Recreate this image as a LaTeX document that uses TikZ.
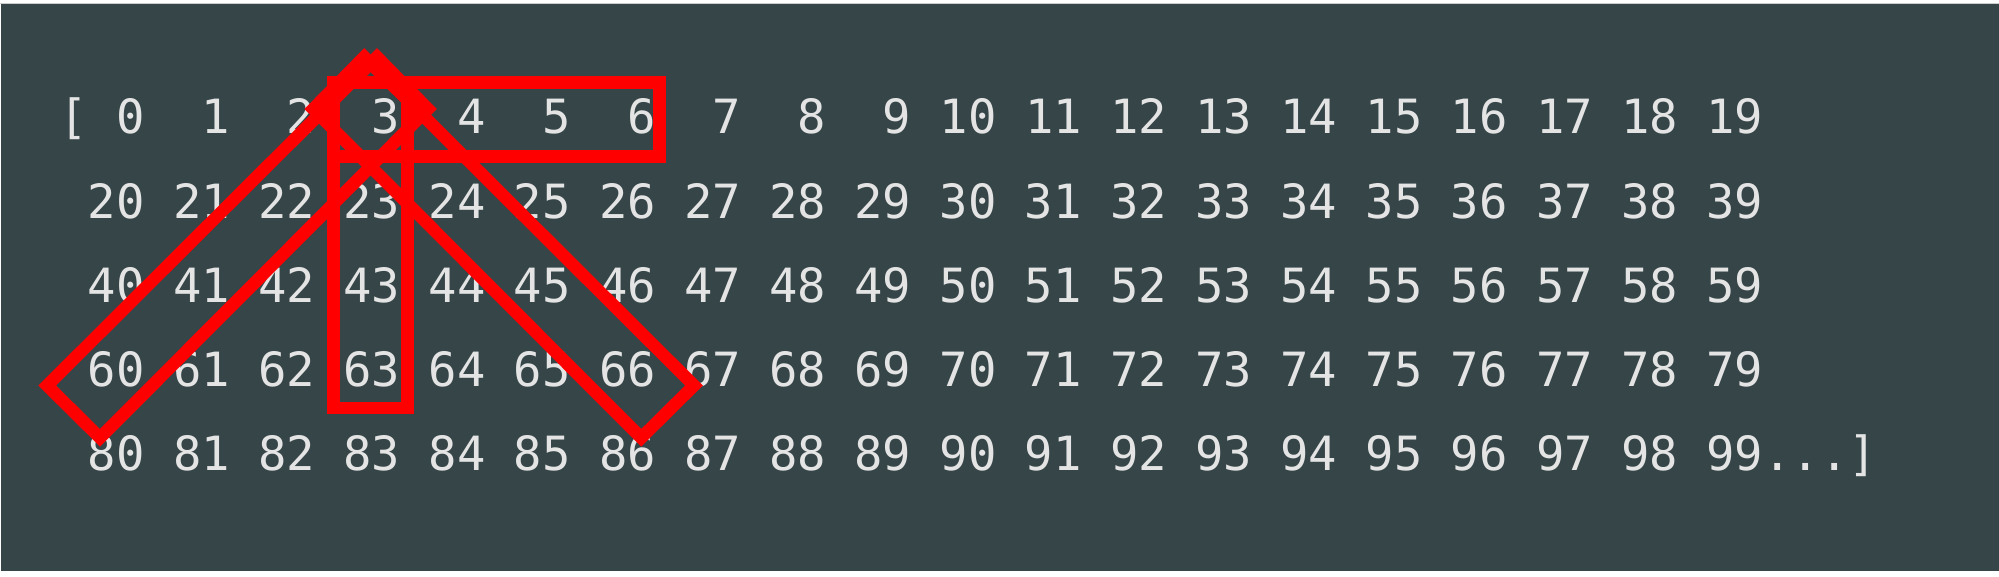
\documentclass[tikz,border=0pt]{standalone}
\usepackage{fontspec}
\newfontfamily\arrmono{DejaVu Sans Mono}
\definecolor{bgslate}{RGB}{54,69,72}
\definecolor{txtgray}{RGB}{228,228,228}
\begin{document}
\begin{tikzpicture}[x=1pt,y=-1pt,
  rowtext/.style={anchor=base west, inner sep=0pt, outer sep=0pt, text=txtgray,
    font=\arrmono\fontsize{47.17}{50}\selectfont},
  redbox/.style={draw=red, line width=12.5pt, line join=miter}]
\useasboundingbox (0,0) rectangle (1999,577);
\fill[white] (0,0) rectangle (1999,577);
\fill[gray!40] (0,3) rectangle (1999,4.5);
\fill[bgslate] (1.3,4.5) rectangle (1999,571);
\node[rowtext] (r1) at (59.5,134) {[~0~~1~~2~~3~~4~~5~~6~~7~~8~~9~10~11~12~13~14~15~16~17~18~19};
\node[rowtext] (r2) at (59.5,218.2) {~20~21~22~23~24~25~26~27~28~29~30~31~32~33~34~35~36~37~38~39};
\node[rowtext] (r3) at (59.5,302.4) {~40~41~42~43~44~45~46~47~48~49~50~51~52~53~54~55~56~57~58~59};
\node[rowtext] (r4) at (59.5,386.6) {~60~61~62~63~64~65~66~67~68~69~70~71~72~73~74~75~76~77~78~79};
\node[rowtext] (r5) at (59.5,470.8) {~80~81~82~83~84~85~86~87~88~89~90~91~92~93~94~95~96~97~98~99...]};
\draw[redbox] (333.7,82.7) rectangle (659.7,156.3);
\draw[redbox] (333.7,82.7) rectangle (407.4,407.8);
\draw[redbox] (47.2,385.5) -- (377,57) -- (428,109) -- (100,437.8) -- cycle;
\draw[redbox] (694,385.5) -- (364.2,57) -- (313.2,109) -- (641.2,437.8) -- cycle;
\end{tikzpicture}
\end{document}
